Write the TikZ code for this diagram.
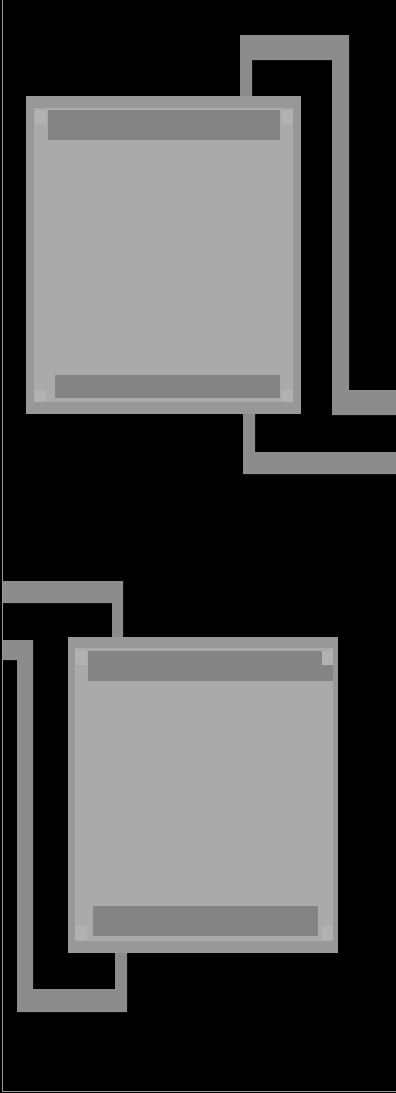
\documentclass[tikz,border=0pt]{standalone}
\begin{document}
\begin{tikzpicture}[x=1pt,y=-1pt,
  wire/.style={fill=wiregray},
  rim/.style={fill=rimgray},
  band/.style={fill=bandgray},
  core/.style={fill=coregray},
  spot/.style={fill=spotgray}]
\definecolor{wiregray}{HTML}{8C8C8C}
\definecolor{rimgray}{HTML}{989898}
\definecolor{bandgray}{HTML}{848484}
\definecolor{coregray}{HTML}{AAAAAA}
\definecolor{spotgray}{HTML}{B2B2B2}
\definecolor{edgegray}{HTML}{9A9A9A}
\useasboundingbox (0,0) rectangle (396,1093);
\fill[black] (0,0) rectangle (396,1093);
% scan edge lines
\draw[edgegray,line width=1.5pt] (2.5,0) -- (2.5,1091.5) -- (396,1091.5);

% ---- top wires ----
\path[wire] (240,96) -- (240,35) -- (349,35) -- (349,390) -- (396,390)
  -- (396,415) -- (332,415) -- (332,60) -- (252,60) -- (252,96) -- cycle;
\path[wire] (243,412) -- (243,474) -- (396,474) -- (396,452)
  -- (255,452) -- (255,412) -- cycle;

% ---- top square ----
\path[rim] (26,96) rectangle (301,414);
\path[core] (34,108) rectangle (293,402);
\path[band] (48,110) rectangle (280,140);
\path[band] (55,375) rectangle (280,398);
\path[spot] (34,110) rectangle (46,124);
\path[spot] (282,110) rectangle (293,124);
\path[spot] (34,390) rectangle (46,402);
\path[spot] (282,390) rectangle (293,402);

% ---- bottom wires ----
\path[wire] (3,581) -- (123,581) -- (123,639) -- (112,639) -- (112,603)
  -- (3,603) -- cycle;
\path[wire] (3,640) -- (33,640) -- (33,989) -- (115,989) -- (115,952)
  -- (127,952) -- (127,1012) -- (17,1012) -- (17,660) -- (3,660) -- cycle;

% ---- bottom square ----
\path[rim] (68,637) rectangle (338,953);
\path[core] (75,648) rectangle (333,941);
\path[band] (88,651) rectangle (333,681);
\path[band] (93,906) rectangle (318,936);
\path[spot] (75,651) rectangle (87,665);
\path[spot] (322,651) rectangle (333,665);
\path[spot] (75,926) rectangle (87,940);
\path[spot] (322,926) rectangle (333,940);
\end{tikzpicture}
\end{document}
